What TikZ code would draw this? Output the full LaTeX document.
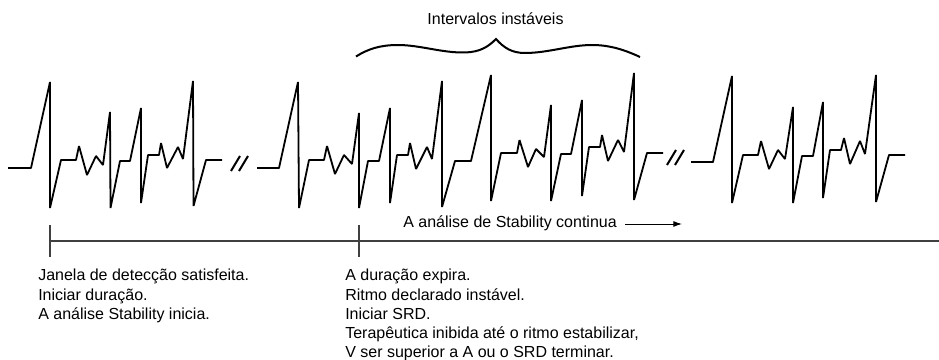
\documentclass[tikz,border=0pt]{standalone}
\usepackage{fontspec}
\setmainfont{Liberation Sans}
\usetikzlibrary{arrows.meta}
\tikzset{
  ecg/.style={line width=1.35pt, line join=bevel, black},
  brk/.style={line width=1.5pt, black},
  rule/.style={line width=0.85pt, black!75},
  lbl/.style={font=\fontsize{12pt}{14.375pt}\selectfont, inner sep=0pt, text=black},
  block/.style={lbl, anchor=north west, align=left},
  pxgrid/.style={x=0.75pt,y=-0.75pt}
}
\begin{document}
\begin{tikzpicture}[pxgrid]
\useasboundingbox (0,0) rectangle (939,360);
% strip 1
\draw[ecg] (8,168) -- (31,168) -- (50,82) -- (50,208) -- (61,160) -- (76,160) -- (79,146) -- (87,175) -- (96,156) -- (103,165) -- (110,112) -- (110.5,208) -- (120,161) -- (130,161) -- (141,108) -- (141,203) -- (148,155) -- (159,155) -- (161,143) -- (167,168) -- (178,147) -- (183,159) -- (193,81) -- (193.5,206) -- (206,160) -- (222,160);
\draw[brk] (231,171) -- (240,156);
\draw[brk] (239,171) -- (248,156);
% strip 2
\draw[ecg] (257,168) -- (279,168) -- (298,82) -- (299,208) -- (309,160) -- (324,160) -- (327,146) -- (335,174) -- (344,155) -- (352,164) -- (359,113) -- (359,208) -- (368,161) -- (379,161) -- (390,108) -- (390,203) -- (397,155) -- (408,155) -- (410,143) -- (416,169) -- (427,147) -- (432,159) -- (442,81) -- (442,207) -- (455,161) -- (471,161) -- (491,75) -- (491,201) -- (501,153) -- (517,153) -- (519.5,140) -- (528,167) -- (536,149) -- (544,157) -- (551,105) -- (551,201) -- (561,154) -- (571,154) -- (582,100) -- (582,196) -- (589,147) -- (600,147) -- (602,135) -- (608,161) -- (618,140) -- (624,152) -- (634,73) -- (634,200) -- (647,153) -- (663,153);
\draw[brk] (667,165) -- (676,150);
\draw[brk] (675,165) -- (684,150);
% strip 3
\draw[ecg] (691,162) -- (713,162) -- (732,76) -- (732,203) -- (743,155) -- (758,155) -- (761,141) -- (769,169) -- (778,150) -- (785,159) -- (793,107) -- (793,203) -- (802,156) -- (813,156) -- (823,102) -- (823,198) -- (830,150) -- (841,150) -- (844,138) -- (850,164) -- (860,141) -- (865,154) -- (876,75) -- (876,202) -- (889,155) -- (905,155);
% brace
\draw[line width=1.5pt, black] (356,56.5) .. controls (368,49) and (380,45) .. (398,45) .. controls (420,45) and (442,53) .. (465,52.5) .. controls (480,52) and (488,47) .. (496,39) .. controls (504,48) and (512,53) .. (525,53) .. controls (548,53) and (570,45) .. (592,45) .. controls (610,45) and (625,50) .. (640,57);
\node[lbl] (titulo) at (495.5,19) {Intervalos instáveis};
% timeline
\coordinate (ta) at (50,241);
\coordinate (te) at (939,241);
\draw[rule] (ta) -- (te);
\coordinate (t1a) at (50,225); \coordinate (t1b) at (50,257);
\coordinate (t2a) at (359,225); \coordinate (t2b) at (359,257);
\draw[rule] (t1a) -- (t1b);
\draw[rule] (t2a) -- (t2b);
\node[lbl, anchor=west] (cont) at (403,223) {A análise de Stability continua};
\coordinate (arra) at (625,224);
\coordinate (arrb) at (682,224);
\draw[line width=0.75pt, black, -{Latex[length=6.5pt,width=4.5pt]}] (arra) -- (arrb);
\node[block] (esq) at (38,269) {Janela de detecção satisfeita.\\Iniciar duração.\\A análise Stability inicia.};
\node[block] (dir) at (345,269) {A duração expira.\\Ritmo declarado instável.\\Iniciar SRD.\\Terapêutica inibida até o ritmo estabilizar,\\V ser superior a A ou o SRD terminar.};
\end{tikzpicture}
\end{document}
